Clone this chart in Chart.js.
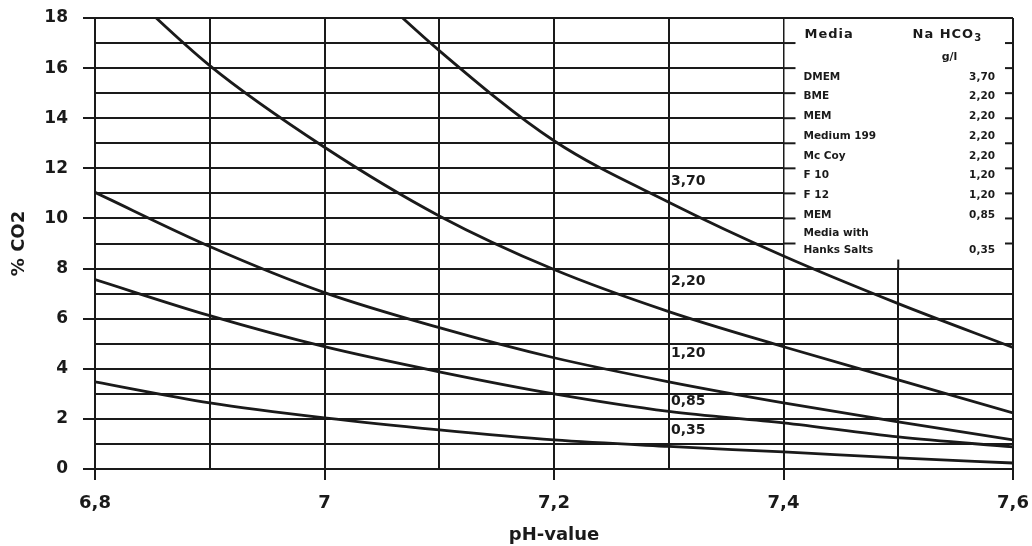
<!DOCTYPE html>
<html>
<head>
<meta charset="utf-8">
<script src="https://cdn.jsdelivr.net/npm/chart.js@4.4.0/dist/chart.umd.min.js"></script>
<style>
  html, body { margin: 0; padding: 0; background: #fff; }
</style>
</head>
<body>
<canvas id="chart" width="1032" height="546"></canvas>
<script>
// pH values where the curves were read
const phValues = [6.8, 6.9, 7.0, 7.1, 7.2, 7.3, 7.4, 7.5, 7.6];
// % CO2 for each NaHCO3 concentration (g/l)
const co2_370 = [null, null, 20.9, 16.7, 13.1, 10.65, 8.5, 6.6, 4.85];
const co2_220 = [20.3, 16.1, 12.84, 10.1, 7.96, 6.28, 4.88, 3.56, 2.24];
const co2_120 = [11.04, 8.88, 7.04, 5.64, 4.44, 3.48, 2.64, 1.88, 1.16];
const co2_085 = [7.56, 6.12, 4.88, 3.88, 3.0, 2.3, 1.84, 1.28, 0.88];
const co2_035 = [3.48, 2.64, 2.04, 1.56, 1.16, 0.9, 0.68, 0.44, 0.24];
const curveLabels = ['3,70', '2,20', '1,20', '0,85', '0,35'];
const curveLabelPh = [7.302, 7.302, 7.302, 7.302, 7.302];
const curveLabelCo2 = [11.48, 7.48, 4.6, 2.68, 1.56];

// table of media
const mediaNames = ['DMEM', 'BME', 'MEM', 'Medium 199', 'Mc Coy', 'F 10', 'F 12', 'MEM'];
const mediaHCO3 = ['3,70', '2,20', '2,20', '2,20', '2,20', '1,20', '1,20', '0,85'];
const lastMedia = ['Media with', 'Hanks Salts'];
const lastHCO3 = '0,35';

const ink = '#1a1a1a';
const fontFam = "'DejaVu Sans', Arial, sans-serif";

function isEven(v) {
  return Math.round(v * 10) % 2 === 0;
}

function makeSeries(values) {
  return {
    data: values.map((v, i) => ({ x: phValues[i], y: v })),
    borderColor: ink,
    borderWidth: 2.8,
    pointRadius: 0,
    fill: false,
    cubicInterpolationMode: 'monotone'
  };
}

function line(ctx, x1, y1, x2, y2) {
  ctx.beginPath();
  ctx.moveTo(x1, y1);
  ctx.lineTo(x2, y2);
  ctx.stroke();
}

const tablePlugin = {
  id: 'mediaTable',
  beforeDatasetsDraw(chart) {
    const { ctx, scales: { x, y } } = chart;
    const left = x.getPixelForValue(7.4);
    const right = x.getPixelForValue(7.6);
    const top = y.getPixelForValue(18);
    const bottom = y.getPixelForValue(8);
    ctx.save();
    ctx.fillStyle = '#fff';
    ctx.fillRect(left + 1, top + 1, right - left - 2, bottom - top - 2);
    ctx.strokeStyle = ink;
    ctx.lineWidth = 2;
    for (let v = 9; v < 18; v++) {
      const py = y.getPixelForValue(v);
      line(ctx, left, py, left + 12, py);
      line(ctx, right - 8, py, right, py);
    }
    const px = x.getPixelForValue(7.5);
    line(ctx, px, bottom - 9, px, bottom);

    ctx.fillStyle = ink;
    ctx.textBaseline = 'middle';
    ctx.textAlign = 'left';
    ctx.font = 'bold 13px ' + fontFam;
    ctx.letterSpacing = '1px';
    ctx.fillText('Media', left + 21, top + 17);
    ctx.fillText('Na HCO', left + 129, top + 17);
    const w = ctx.measureText('Na HCO').width;
    ctx.font = 'bold 10px ' + fontFam;
    ctx.fillText('3', left + 129 + w, top + 20);
    ctx.letterSpacing = '0px';
    ctx.font = 'bold 11px ' + fontFam;
    ctx.textAlign = 'center';
    ctx.fillText('g/l', left + 166, top + 39);

    ctx.font = 'bold 10.5px ' + fontFam;
    mediaNames.forEach((name, i) => {
      const ty = top + 59 + i * 19.7;
      ctx.textAlign = 'left';
      ctx.fillText(name, left + 20, ty);
      ctx.textAlign = 'right';
      ctx.fillText(mediaHCO3[i], right - 18, ty);
    });
    ctx.textAlign = 'left';
    ctx.fillText(lastMedia[0], left + 20, top + 215);
    ctx.fillText(lastMedia[1], left + 20, top + 232);
    ctx.textAlign = 'right';
    ctx.fillText(lastHCO3, right - 18, top + 232);
    ctx.restore();
  },
  afterDatasetsDraw(chart) {
    const { ctx, scales: { x, y } } = chart;
    ctx.save();
    ctx.fillStyle = ink;
    ctx.font = 'bold 14px ' + fontFam;
    ctx.textAlign = 'left';
    ctx.textBaseline = 'middle';
    curveLabels.forEach((t, i) => {
      ctx.fillText(t, x.getPixelForValue(curveLabelPh[i]), y.getPixelForValue(curveLabelCo2[i]));
    });
    ctx.restore();
  }
};

new Chart(document.getElementById('chart'), {
  type: 'line',
  data: {
    datasets: [co2_370, co2_220, co2_120, co2_085, co2_035].map(makeSeries)
  },
  plugins: [tablePlugin],
  options: {
    responsive: false,
    animation: false,
    layout: { padding: { top: 18, right: 19, left: 0, bottom: 0 } },
    plugins: {
      legend: { display: false },
      tooltip: { enabled: false }
    },
    scales: {
      x: {
        type: 'linear',
        min: 6.8,
        max: 7.6,
        afterFit: (scale) => {
          scale.height = 77;
          scale.paddingLeft = 0;
          scale.paddingRight = 0;
        },
        border: { color: ink, width: 2 },
        grid: {
          color: ink,
          lineWidth: 2,
          tickLength: 11,
          tickColor: (c) => isEven(c.tick.value) ? ink : 'rgba(0,0,0,0)'
        },
        ticks: {
          stepSize: 0.1,
          autoSkip: false,
          maxRotation: 0,
          padding: 13,
          color: ink,
          font: { family: fontFam, size: 18, weight: 'bold' },
          callback: (v) => isEven(v) ? String(Number(v.toFixed(1))).replace('.', ',') : ''
        },
        title: {
          display: true,
          text: 'pH-value',
          color: ink,
          padding: { top: 0, bottom: 0 },
          font: { family: fontFam, size: 18, weight: 'bold' }
        }
      },
      y: {
        min: 0,
        max: 18,
        afterFit: (scale) => {
          scale.width = 95;
          scale.paddingTop = 0;
          scale.paddingBottom = 0;
        },
        border: { color: ink, width: 2 },
        grid: {
          color: ink,
          lineWidth: 2,
          tickLength: 12,
          tickColor: (c) => c.tick.value % 2 === 0 ? ink : 'rgba(0,0,0,0)'
        },
        ticks: {
          stepSize: 1,
          autoSkip: false,
          padding: 15,
          color: ink,
          font: { family: fontFam, size: 17, weight: 'bold' },
          callback: (v) => v % 2 === 0 ? String(v) : ''
        },
        title: {
          display: true,
          text: '% CO2',
          color: ink,
          padding: { top: 9, bottom: 0 },
          font: { family: fontFam, size: 18, weight: 'bold' }
        }
      }
    }
  }
});
</script>
</body>
</html>
